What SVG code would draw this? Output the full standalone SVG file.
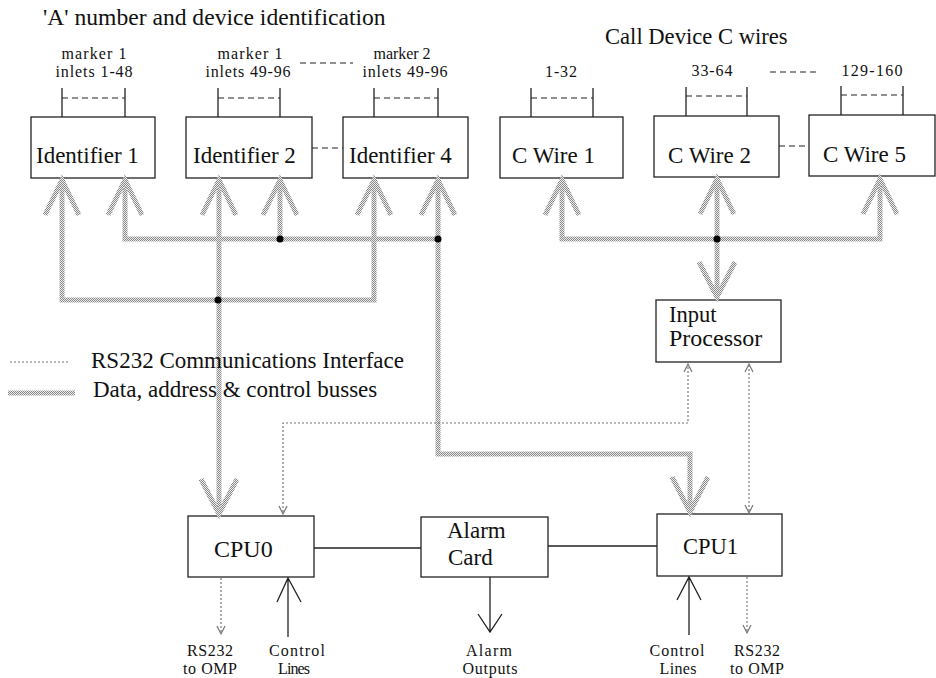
<svg xmlns="http://www.w3.org/2000/svg" width="936" height="678" viewBox="0 0 936 678">
<style>
text{font-family:"Liberation Serif","Times New Roman",serif;fill:#111}
.t23{font-size:23px}
.t18{font-size:16px;text-anchor:middle}
.t17{font-size:16px;text-anchor:middle}
.box{fill:#fff;stroke:#222;stroke-width:1.3}
.solid{fill:none;stroke:#222;stroke-width:1.3}
.dash{fill:none;stroke:#222;stroke-width:1.2;stroke-dasharray:6 4}
.bus{fill:none;stroke:url(#dith);stroke-width:5}
.rs{fill:none;stroke:#777;stroke-width:1.2;stroke-dasharray:2 2}
.rsh{fill:none;stroke:#777;stroke-width:1.2}
.dot{fill:#000}
</style>
<defs>
<pattern id="dith" width="2" height="2" patternUnits="userSpaceOnUse">
<rect width="2" height="2" fill="#ececec"/>
<rect width="1" height="1" fill="#8a8a8a"/>
<rect x="1" y="1" width="1" height="1" fill="#8a8a8a"/>
</pattern>
<path id="busUp" d="M-17,35 L0,0 L17,35"/>
<path id="busDown" d="M-18,-35 L0,0 L18,-35"/>
<path id="rsUp" d="M-4,8 L0,0 L4,8"/>
<path id="rsDown" d="M-4,-8 L0,0 L4,-8"/>
</defs>
<rect width="936" height="678" fill="#fff"/>

<g id="titles">
<text class="t23" x="43" y="25" style="font-size:23.6px">'A' number and device identification</text>
<text class="t23" x="605" y="44" style="font-size:22.6px">Call Device C wires</text>
</g>

<g id="marker-labels">
<text class="t17" x="94" y="59" textLength="65">marker 1</text>
<text class="t17" x="94" y="77" textLength="77">inlets 1-48</text>
<text class="t17" x="250" y="59" textLength="65">marker 1</text>
<text class="t17" x="248" y="77" textLength="85">inlets 49-96</text>
<text class="t17" x="402" y="59" textLength="57">marker 2</text>
<text class="t17" x="405" y="77" textLength="85">inlets 49-96</text>
<text class="t17" x="561" y="77" textLength="32">1-32</text>
<text class="t17" x="712" y="76" textLength="41">33-64</text>
<text class="t17" x="872" y="76" textLength="61">129-160</text>
<path class="dash" d="M300,63 H353 M770,72 H820"/>
</g>

<g id="identifier1">
<path class="solid" d="M62,88 V117 M125,88 V117"/>
<path class="dash" d="M62,98 H125"/>
<rect class="box" x="31" y="117" width="124" height="61"/>
<text class="t23" x="36" y="163">Identifier 1</text>
</g>
<g id="identifier2">
<path class="solid" d="M218,88 V117 M280,88 V117"/>
<path class="dash" d="M218,98 H280"/>
<rect class="box" x="186" y="117" width="126" height="61"/>
<text class="t23" x="193" y="163">Identifier 2</text>
</g>
<g id="identifier4">
<path class="solid" d="M374,88 V117 M438,88 V117"/>
<path class="dash" d="M374,98 H438"/>
<rect class="box" x="343" y="117" width="125" height="61"/>
<text class="t23" x="349" y="163">Identifier 4</text>
</g>
<g id="cwire1">
<path class="solid" d="M531,88 V117 M593,88 V117"/>
<path class="dash" d="M531,98 H593"/>
<rect class="box" x="500" y="117" width="123" height="61"/>
<text class="t23" x="512" y="163">C Wire 1</text>
</g>
<g id="cwire2">
<path class="solid" d="M686,87 V116 M747,87 V116"/>
<path class="dash" d="M686,96 H747"/>
<rect class="box" x="654" y="116" width="125" height="61"/>
<text class="t23" x="668" y="163">C Wire 2</text>
</g>
<g id="cwire5">
<path class="solid" d="M841,86 V115 M903,86 V115"/>
<path class="dash" d="M841,95 H903"/>
<rect class="box" x="809" y="115" width="126" height="61"/>
<text class="t23" x="823" y="162">C Wire 5</text>
</g>
<g id="inputprocessor">
<rect class="box" x="656" y="300" width="125" height="62"/>
<text class="t23" x="669" y="322" style="font-size:22.5px">Input</text>
<text class="t23" x="669" y="346" style="font-size:24px">Processor</text>
</g>
<g id="cpu0">
<rect class="box" x="188" y="516" width="126" height="61"/>
<text class="t23" x="214" y="557" style="font-size:24px">CPU0</text>
</g>
<g id="alarmcard">
<rect class="box" x="421" y="517" width="127" height="60"/>
<text class="t23" x="447" y="538">Alarm</text>
<text class="t23" x="448" y="565">Card</text>
</g>
<g id="cpu1">
<rect class="box" x="657" y="514" width="125" height="62"/>
<text class="t23" x="683" y="554" style="font-size:22.5px">CPU1</text>
</g>

<g id="connectors">
<path class="bus" d="M62,183 V300 H374 V183"/>
<path class="bus" d="M125,183 V239 H438"/>
<path class="bus" d="M280,183 V239"/>
<path class="bus" d="M438,183 V454 H690 V510"/>
<path class="bus" d="M219,183 V511"/>
<path class="bus" d="M562,182 V239 H880 V182"/>
<path class="bus" d="M717,182 V293"/>
<use href="#busUp" class="bus" x="62" y="180"/>
<use href="#busUp" class="bus" x="125" y="180"/>
<use href="#busUp" class="bus" x="219" y="180"/>
<use href="#busUp" class="bus" x="280" y="180"/>
<use href="#busUp" class="bus" x="374" y="180"/>
<use href="#busUp" class="bus" x="438" y="180"/>
<use href="#busUp" class="bus" x="562" y="180"/>
<use href="#busUp" class="bus" x="717" y="179"/>
<use href="#busUp" class="bus" x="880" y="179"/>
<use href="#busDown" class="bus" x="219" y="514"/>
<use href="#busDown" class="bus" x="690" y="512"/>
<use href="#busDown" class="bus" x="717" y="297"/>
<circle class="dot" cx="218" cy="300" r="3.5"/>
<circle class="dot" cx="280" cy="239" r="3.5"/>
<circle class="dot" cx="438" cy="239" r="3.5"/>
<circle class="dot" cx="717" cy="239" r="3.5"/>
<path class="rs" d="M283,512 V423 H688 V365"/>
<path class="rs" d="M749,365 V511"/>
<path class="rs" d="M221,578 V632"/>
<path class="rs" d="M747,577 V631"/>
<use href="#rsDown" class="rsh" x="283" y="514"/>
<use href="#rsUp" class="rsh" x="688" y="364"/>
<use href="#rsUp" class="rsh" x="749" y="364"/>
<use href="#rsDown" class="rsh" x="749" y="513"/>
<use href="#rsDown" class="rsh" x="221" y="634"/>
<use href="#rsDown" class="rsh" x="747" y="633"/>
<path class="solid" d="M314,548 H421"/>
<path class="solid" d="M548,546 H657"/>
<path class="solid" d="M288,637 V578 M277,602 L288,578 L301,602"/>
<path class="solid" d="M490,577 V632 M478,614 L490,632 L502,614"/>
<path class="solid" d="M689,635 V577 M677,600 L689,577 L701,600"/>
<path class="dash" d="M312,148 H343 M779,146 H809"/>
</g>

<g id="bottom-labels">
<text class="t18" x="210" y="656" textLength="46">RS232</text>
<text class="t18" x="210" y="674" textLength="54">to OMP</text>
<text class="t18" x="297" y="656" textLength="56">Control</text>
<text class="t18" x="294" y="674" textLength="32">Lines</text>
<text class="t18" x="489" y="656" textLength="46">Alarm</text>
<text class="t18" x="490" y="674" textLength="55">Outputs</text>
<text class="t18" x="677" y="656" textLength="55">Control</text>
<text class="t18" x="678" y="674" textLength="37">Lines</text>
<text class="t18" x="757" y="656" textLength="46">RS232</text>
<text class="t18" x="757" y="674" textLength="54">to OMP</text>
</g>

<g id="legend">
<path class="rs" d="M10,362 H68"/>
<path class="bus" d="M8,393 H75"/>
<text class="t23" x="91" y="368">RS232 Communications Interface</text>
<text class="t23" x="93" y="397">Data, address &amp; control busses</text>
</g>
</svg>
